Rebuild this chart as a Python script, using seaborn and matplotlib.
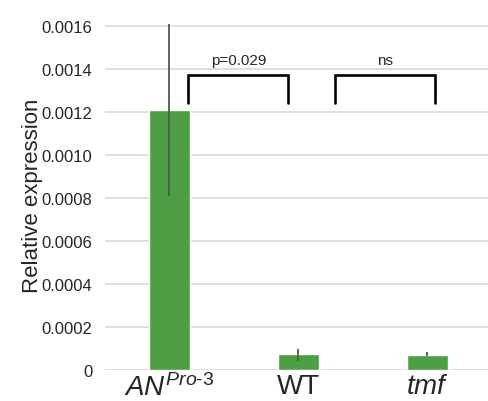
import matplotlib.pyplot as plt
import pandas as pd
import seaborn as sns

genotypes = ["AN", "WT", "tmf"]
tick_labels = [r"$\it{AN}^{\it{Pro}\text{-}\it{3}}$", "WT", r"$\it{tmf}$"]
expression = [0.00121, 0.000074, 0.000070]
err_low = [0.0004, 0.000034, 0.000006]
err_high = [0.0004, 0.000026, 0.000013]
comparisons = [("AN", "WT", "p=0.029"), ("WT", "tmf", "ns")]

df = pd.DataFrame({"genotype": genotypes, "expr": expression})

sns.set_style("white")
plt.rcParams['font.family'] = ['Liberation Sans', 'DejaVu Sans']
plt.rcParams['mathtext.fontset'] = 'custom'
plt.rcParams['mathtext.it'] = 'Liberation Sans:italic'
plt.rcParams['mathtext.rm'] = 'Liberation Sans'

fig = plt.figure(figsize=(4.88, 4.02), dpi=100)
ax = fig.add_axes([0.215, 0.077, 0.785, 0.872])

sns.barplot(data=df, x="genotype", y="expr", color="#4e9f44",
            width=0.32, saturation=1, ax=ax, zorder=2)
ax.errorbar(range(len(genotypes)), expression, yerr=[err_low, err_high],
            fmt="none", ecolor="#555555", elinewidth=1.3, capsize=0, zorder=3)

# significance brackets (bracket ends sit a bit off the bar centres)
offsets = [(0.147, -0.078), (0.287, 0.06)]
for (a, b, label), (o1, o2) in zip(comparisons, offsets):
    x1 = genotypes.index(a) + o1
    x2 = genotypes.index(b) + o2
    ax.plot([x1, x1, x2, x2], [0.001244, 0.001373, 0.001373, 0.001244],
            color="black", lw=1.9, zorder=4, solid_joinstyle="miter")
    ax.text((x1 + x2) / 2, 0.00141, label, ha="center", va="bottom", fontsize=11)

ax.set_xlim(-0.5, 2.47)
ax.set_ylim(0, 0.00163)
ax.set_yticks([0, 0.0002, 0.0004, 0.0006, 0.0008, 0.0010, 0.0012, 0.0014, 0.0016])
ax.set_yticklabels(["0", "0.0002", "0.0004", "0.0006", "0.0008", "0.0010",
                    "0.0012", "0.0014", "0.0016"], fontsize=12)
ax.set_xticks(range(len(genotypes)))
ax.set_xticklabels(tick_labels, fontsize=20)
ax.tick_params(axis="y", length=0, pad=9)
ax.tick_params(axis="x", length=0, pad=2)
ax.yaxis.grid(True, color="#d9d9d9", lw=1.2, zorder=0)
ax.set_axisbelow(True)
for s in ax.spines.values():
    s.set_visible(False)
ax.set_xlabel("")
ax.set_ylabel("Relative expression", fontsize=16, labelpad=-1)

fig.savefig("out.png", dpi=100)
